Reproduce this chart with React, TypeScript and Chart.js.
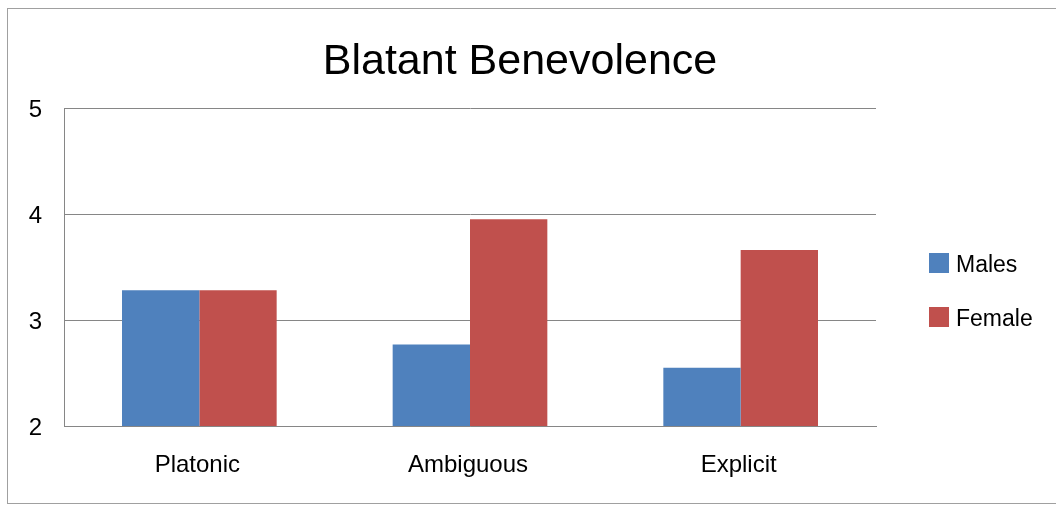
import React, { useEffect, useRef } from "react";
import { Chart, registerables } from "chart.js";

Chart.register(...registerables);

const TITLE = "Blatant Benevolence";
const categories = ["Platonic", "Ambiguous", "Explicit"];
const males = [3.28, 2.77, 2.55];
const females = [3.28, 3.95, 3.66];
const seriesNames = ["Males", "Female"];
const seriesColors = ["#4F81BD", "#C0504D"];
const yMin = 2;
const yMax = 5;
const yStep = 1;

const FONT = '"Liberation Sans", Arial, sans-serif';

const overlayPlugin = {
  id: "overlay",
  afterDraw(chart: any) {
    const ctx = chart.ctx;
    ctx.save();
    ctx.fillStyle = "#000";
    ctx.font = `43px ${FONT}`;
    ctx.textAlign = "center";
    ctx.textBaseline = "alphabetic";
    ctx.fillText(TITLE, 520, 74);
    chart.data.datasets.forEach((ds: any, i: number) => {
      const cy = 263 + i * 54;
      ctx.fillStyle = ds.backgroundColor;
      ctx.fillRect(929, cy - 10, 20, 20);
      ctx.fillStyle = "#000";
      ctx.font = `23px ${FONT}`;
      ctx.textAlign = "left";
      ctx.textBaseline = "alphabetic";
      ctx.fillText(ds.label, 956, cy + 9);
    });
    ctx.restore();
  },
};

export default function App() {
  const ref = useRef<HTMLCanvasElement>(null);
  useEffect(() => {
    if (!ref.current) return;
    const chart = new Chart(ref.current, {
      type: "bar",
      data: {
        labels: categories,
        datasets: [
          { label: seriesNames[0], data: males, backgroundColor: seriesColors[0] },
          { label: seriesNames[1], data: females, backgroundColor: seriesColors[1] },
        ],
      },
      options: {
        animation: false,
        responsive: true,
        maintainAspectRatio: false,
        layout: { padding: { top: 108, right: 180, bottom: 0, left: 0 } },
        datasets: {
          bar: { categoryPercentage: 4 / 7, barPercentage: 1 },
        },
        plugins: {
          legend: { display: false },
          title: { display: false },
          tooltip: { enabled: false },
        },
        scales: {
          x: {
            afterFit: (s: any) => {
              s.height = 80;
            },
            grid: { display: false, drawTicks: false },
            border: { display: true, color: "#868686", width: 1 },
            ticks: {
              color: "#000",
              font: { family: FONT, size: 24 },
              padding: 25,
              labelOffset: -2,
            },
          },
          y: {
            min: yMin,
            max: yMax,
            afterFit: (s: any) => {
              s.width = 64;
            },
            grid: { display: true, color: "#868686", drawTicks: false },
            border: { display: true, color: "#868686", width: 1 },
            ticks: {
              stepSize: yStep,
              color: "#000",
              font: { family: FONT, size: 24 },
              padding: 22,
              labelOffset: 2,
            },
          },
        },
      },
      plugins: [overlayPlugin],
    });
    return () => chart.destroy();
  }, []);

  return (
    <div style={{ position: "absolute", left: 0, top: 0, width: 1056, height: 506, background: "#fff" }}>
      <div
        style={{
          position: "absolute",
          left: 7,
          top: 8,
          width: 1070,
          height: 496,
          border: "1px solid #a0a0a0",
          boxSizing: "border-box",
        }}
      />
      <canvas ref={ref} style={{ position: "absolute", left: 0, top: 0, width: 1056, height: 506 }} />
    </div>
  );
}
